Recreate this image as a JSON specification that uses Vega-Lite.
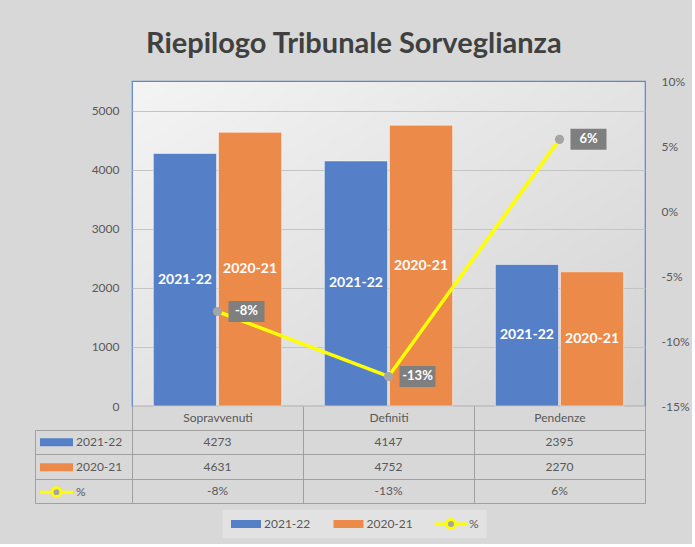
{
  "$schema": "https://vega.github.io/schema/vega-lite/v6.json",
  "background": "#d8d8d8",
  "padding": {"left": 34, "top": 30, "right": 2, "bottom": 6},
  "title": {"text": "Riepilogo Tribunale Sorveglianza", "font": "Lato", "fontSize": 29, "fontWeight": "bold", "color": "#404040", "offset": 15, "dx": -8, "anchor": "middle"},
  "datasets": {
    "bars": [
      {"cat": "Sopravvenuti", "series": "2021-22", "value": 4273},
      {"cat": "Sopravvenuti", "series": "2020-21", "value": 4631},
      {"cat": "Definiti", "series": "2021-22", "value": 4147},
      {"cat": "Definiti", "series": "2020-21", "value": 4752},
      {"cat": "Pendenze", "series": "2021-22", "value": 2395},
      {"cat": "Pendenze", "series": "2020-21", "value": 2270}
    ],
    "pct": [
      {"cat": "Sopravvenuti", "pct": -0.0773},
      {"cat": "Definiti", "pct": -0.1273},
      {"cat": "Pendenze", "pct": 0.0551}
    ],
    "table": [
      {"cat": "Sopravvenuti", "series": "2021-22", "label": "4273"},
      {"cat": "Definiti", "series": "2021-22", "label": "4147"},
      {"cat": "Pendenze", "series": "2021-22", "label": "2395"},
      {"cat": "Sopravvenuti", "series": "2020-21", "label": "4631"},
      {"cat": "Definiti", "series": "2020-21", "label": "4752"},
      {"cat": "Pendenze", "series": "2020-21", "label": "2270"},
      {"cat": "Sopravvenuti", "series": "%", "label": "-8%"},
      {"cat": "Definiti", "series": "%", "label": "-13%"},
      {"cat": "Pendenze", "series": "%", "label": "6%"}
    ]
  },
  "bounds": "flush",
  "spacing": 24,
  "vconcat": [
    {
      "width": 513,
      "height": 325,
      "view": {"stroke": "#5a86d0", "strokeWidth": 1.2, "fill": {"gradient": "linear", "x1": 0, "y1": 0, "x2": 1, "y2": 1, "stops": [{"offset": 0, "color": "#f4f4f4"}, {"offset": 1, "color": "#d3d3d3"}]}},
      "layer": [
        {
          "data": {"name": "bars"},
          "mark": {"type": "bar", "stroke": "#ffffff", "strokeWidth": 0.7, "strokeOpacity": 0.7},
          "encoding": {
            "x": {"field": "cat", "type": "nominal", "sort": ["Sopravvenuti", "Definiti", "Pendenze"], "scale": {"paddingInner": 0.25, "paddingOuter": 0.125}, "axis": {"title": null, "labels": false, "ticks": false, "domainColor": "#8c8c8c", "domainWidth": 1.2}},
            "xOffset": {"field": "series", "type": "nominal", "sort": ["2021-22", "2020-21"], "scale": {"paddingInner": 0.03}},
            "y": {"field": "value", "type": "quantitative", "scale": {"domain": [0, 5500], "nice": false}, "axis": {"title": null, "format": "d", "values": [0, 1000, 2000, 3000, 4000, 5000], "grid": true, "gridColor": "#c4c4c4", "domain": false, "ticks": false, "labelPadding": 13}},
            "fill": {
              "field": "series", "type": "nominal",
              "scale": {"domain": ["2021-22", "2020-21", "%"], "range": ["#5580c8", "#ec8a4a", "#a5a5a5"]},
              "legend": {
                "orient": "none", "legendX": 90.5, "legendY": 429, "direction": "horizontal", "title": null,
                "symbolSize": 900, "symbolType": "M-1,-0.27H1V0.27H-1Z", "symbolStrokeWidth": 3, "labelOffset": 1.5, "columnPadding": 21.5, "clipHeight": 14,
                "padding": 7, "fillColor": "#e2e2e2", "labelFont": "Lato", "labelFontSize": 12, "labelColor": "#595959", "symbolOpacity": 1,
                "encoding": {
                  "symbols": {
                    "shape": {"value": {"expr": "datum.value === '%' ? 'M-1.1,0H-0.3M0.3,0H1.1M0.3,0A0.3,0.3,0,1,1,-0.3,0A0.3,0.3,0,1,1,0.3,0Z' : 'M-1,-0.27H1V0.27H-1Z'"}},
                    "stroke": {"value": {"expr": "datum.value === '%' ? '#ffff00' : 'transparent'"}}
                  }
                }
              }
            }
          }
        },
        {
          "data": {"name": "bars"},
          "mark": {"type": "text", "color": "#ffffff", "font": "Lato", "fontWeight": "bold", "fontSize": 14, "baseline": "middle"},
          "encoding": {
            "x": {"field": "cat", "type": "nominal", "sort": ["Sopravvenuti", "Definiti", "Pendenze"], "axis": null},
            "xOffset": {"field": "series", "type": "nominal", "sort": ["2021-22", "2020-21"]},
            "y": {"field": "value", "type": "quantitative", "scale": {"domain": [0, 11000], "nice": false}, "axis": null},
            "text": {"field": "series"}
          }
        },
        {
          "data": {"name": "pct"},
          "encoding": {
            "x": {"field": "cat", "type": "nominal", "sort": ["Sopravvenuti", "Definiti", "Pendenze"], "axis": null},
            "y": {"field": "pct", "type": "quantitative", "scale": {"domain": [-0.15, 0.1], "nice": false}, "axis": {"orient": "right", "title": null, "format": ".0%", "values": [-0.15, -0.1, -0.05, 0, 0.05, 0.1], "grid": false, "domain": false, "ticks": false, "labelPadding": 16}}
          },
          "layer": [
            {"mark": {"type": "line", "color": "#ffff00", "strokeWidth": 3.5}},
            {"mark": {"type": "point", "filled": true, "color": "#a5a5a5", "size": 85, "opacity": 1}},
            {"mark": {"type": "point", "filled": true, "color": "#7f7f7f", "opacity": 1, "size": 100, "shape": "M-3.6,-2.1H3.6V2.1H-3.6Z", "xOffset": 29}},
            {"mark": {"type": "text", "color": "#ffffff", "font": "Lato", "fontWeight": "bold", "fontSize": 13, "dx": 29, "baseline": "middle"}, "encoding": {"text": {"field": "pct", "type": "quantitative", "format": ".0%"}}}
          ]
        }
      ],
      "resolve": {"scale": {"y": "independent"}}
    },
    {
      "width": 513,
      "height": 73,
      "view": {"stroke": "#a0a0a0", "strokeWidth": 1},
      "data": {"name": "table"},
      "mark": {"type": "text", "font": "Lato", "fontSize": 12, "color": "#595959", "strokeWidth": 0, "baseline": "middle"},
      "encoding": {
        "x": {"field": "cat", "type": "nominal", "sort": ["Sopravvenuti", "Definiti", "Pendenze"], "scale": {"paddingInner": 0, "paddingOuter": 0},
              "axis": {"orient": "top", "title": null, "tickBand": "extent", "tickSize": 24, "tickColor": "#a0a0a0", "domain": true, "domainColor": "#a0a0a0", "labelPadding": -18, "grid": true, "gridColor": "#a0a0a0", "gridOpacity": 1, "labelAngle": 0, "labelColor": "#595959", "labelFontSize": 12}},
        "y": {"field": "series", "type": "nominal", "sort": ["2021-22", "2020-21", "%"], "scale": {"paddingInner": 0, "paddingOuter": 0},
              "axis": {"title": null, "labels": false, "tickBand": "extent", "tickSize": -97, "offset": 97, "domain": true, "domainColor": "#a0a0a0", "tickColor": "#a0a0a0", "grid": true, "gridColor": "#a0a0a0", "gridOpacity": 1}},
        "text": {"field": "label"},
        "stroke": {
          "field": "series", "type": "nominal", "sort": ["2021-22", "2020-21", "%"],
          "scale": {"range": ["#5580c8", "#ec8a4a", "#ffff00"]},
          "legend": {
            "orient": "none", "legendX": -93.5, "legendY": 349, "direction": "vertical", "title": null,
            "symbolSize": 1089, "symbolType": "M-1,-0.15H1M-1,-0.05H1M-1,0.05H1M-1,0.15H1", "symbolStrokeWidth": 3, "symbolFillColor": "#a5a5a5",
            "labelOffset": 1.5, "rowPadding": 0, "clipHeight": 24.3, "padding": 0,
            "labelFont": "Lato", "labelFontSize": 12, "labelColor": "#595959", "symbolOpacity": 1,
            "encoding": {
              "symbols": {
                "shape": {"value": {"expr": "datum.value === '%' ? 'M-1,0H-0.27M0.27,0H1M0.27,0A0.27,0.27,0,1,1,-0.27,0A0.27,0.27,0,1,1,0.27,0Z' : 'M-1,-0.15H1M-1,-0.05H1M-1,0.05H1M-1,0.15H1'"}},
                "fill": {"value": "#a5a5a5"}
              }
            }
          }
        }
      }
    }
  ],
  "config": {
    "font": "Lato",
    "axis": {"labelFont": "Lato", "labelFontSize": 12, "labelColor": "#595959"},
    "legend": {"labelFont": "Lato"},
    "locale": {"number": {"decimal": ".", "thousands": ",", "grouping": [3], "currency": ["$", ""], "minus": "-"}}
  }
}
